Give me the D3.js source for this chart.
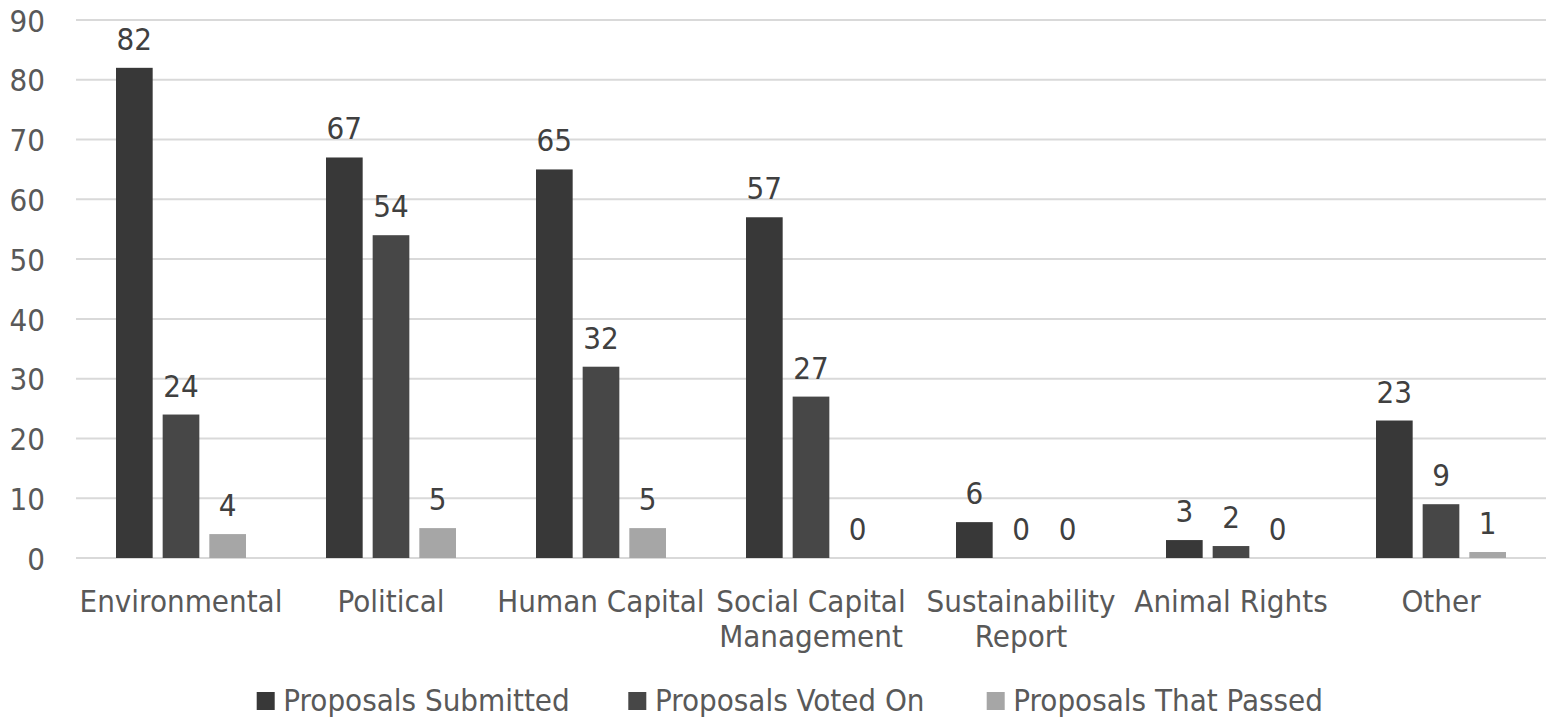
<!DOCTYPE html>
<html>
<head>
<meta charset="utf-8">
<script src="https://cdn.jsdelivr.net/npm/d3@7"></script>
<style>
  html, body { margin: 0; padding: 0; background: #ffffff; }
  svg { display: block; }
  text { font-family: "DejaVu Sans Condensed", "DejaVu Sans", Verdana, sans-serif; font-stretch: condensed; }
</style>
</head>
<body>
<svg id="chart" width="1547" height="719"></svg>
<script>
// Shareholder proposal counts by category
const categories = ["Environmental", "Political", "Human Capital", "Social Capital Management", "Sustainability Report", "Animal Rights", "Other"];
const seriesNames = ["Proposals Submitted", "Proposals Voted On", "Proposals That Passed"];
const submitted = [82, 67, 65, 57, 6, 3, 23];
const votedOn   = [24, 54, 32, 27, 0, 2, 9];
const passed    = [4, 5, 5, 0, 0, 0, 1];
const yTicks = [0, 10, 20, 30, 40, 50, 60, 70, 80, 90];

const seriesValues = [submitted, votedOn, passed];
const colors = ["#383838", "#474747", "#a6a6a6"];

const W = 1547, H = 719;
const plot = { left: 76, right: 1546, top: 20, bottom: 558 };
const fontSize = 31;

const svg = d3.select("#chart");

const x0 = d3.scaleBand().domain(categories).range([plot.left, plot.right]).padding(0);
const bw = x0.bandwidth();
const x1 = d3.scaleBand().domain(seriesNames)
  .range([bw * 40 / 210, bw * 170 / 210])
  .paddingInner(0.214).paddingOuter(0);
const y = d3.scaleLinear().domain([0, 90]).range([plot.bottom, plot.top]);

// Horizontal gridlines
svg.append("g").selectAll("line").data(yTicks).join("line")
  .attr("x1", plot.left).attr("x2", plot.right)
  .attr("y1", d => y(d)).attr("y2", d => y(d))
  .attr("stroke", "#d9d9d9").attr("stroke-width", 2);

// Y axis labels
const yAxis = d3.axisLeft(y).tickValues(yTicks).tickSize(0).tickPadding(0);
const gy = svg.append("g").attr("transform", "translate(45,0)").call(yAxis);
gy.select(".domain").remove();
gy.selectAll("text")
  .attr("font-size", fontSize)
  .attr("fill", "#595959")
  .attr("font-family", null)
  .attr("dy", "0.36em");

// Bars
const rows = categories.map((c, i) => ({
  category: c,
  values: seriesNames.map((s, j) => ({ series: s, value: seriesValues[j][i], color: colors[j] }))
}));

const groups = svg.append("g").selectAll("g").data(rows).join("g")
  .attr("transform", d => `translate(${x0(d.category)},0)`);

groups.selectAll("rect").data(d => d.values).join("rect")
  .attr("x", d => x1(d.series))
  .attr("width", x1.bandwidth())
  .attr("y", d => y(d.value))
  .attr("height", d => y(0) - y(d.value))
  .attr("fill", d => d.color);

// Value labels
groups.selectAll("text.val").data(d => d.values).join("text")
  .attr("class", "val")
  .attr("x", d => x1(d.series) + x1.bandwidth() / 2)
  .attr("y", d => y(d.value) - 18)
  .attr("text-anchor", "middle")
  .attr("font-size", fontSize)
  .attr("fill", "#404040")
  .text(d => d.value);

// Category labels, wrapped to the band width
const catG = svg.append("g");
categories.forEach(c => {
  const t = catG.append("text")
    .attr("x", x0(c) + bw / 2)
    .attr("y", 612)
    .attr("text-anchor", "middle")
    .attr("font-size", fontSize)
    .attr("fill", "#595959");
  const words = c.split(" ");
  let lines = [], line = [];
  const probe = t.append("tspan");
  words.forEach(w => {
    const test = line.concat(w).join(" ");
    probe.text(test);
    if (probe.node().getComputedTextLength() > bw - 2 && line.length) {
      lines.push(line.join(" "));
      line = [w];
    } else {
      line.push(w);
    }
  });
  lines.push(line.join(" "));
  probe.remove();
  lines.forEach((l, i) => {
    t.append("tspan").attr("x", x0(c) + bw / 2).attr("dy", i === 0 ? 0 : 35).text(l);
  });
});

// Legend
const legendX = [256.7, 628.3, 986.7];
const legend = svg.append("g").selectAll("g").data(seriesNames).join("g")
  .attr("transform", (d, i) => `translate(${legendX[i]},0)`);
legend.append("rect")
  .attr("x", 0).attr("y", 692).attr("width", 18).attr("height", 18)
  .attr("fill", (d, i) => colors[i]);
legend.append("text")
  .attr("x", 26.6).attr("y", 711)
  .attr("font-size", fontSize)
  .attr("fill", "#595959")
  .text(d => d);
</script>
</body>
</html>
